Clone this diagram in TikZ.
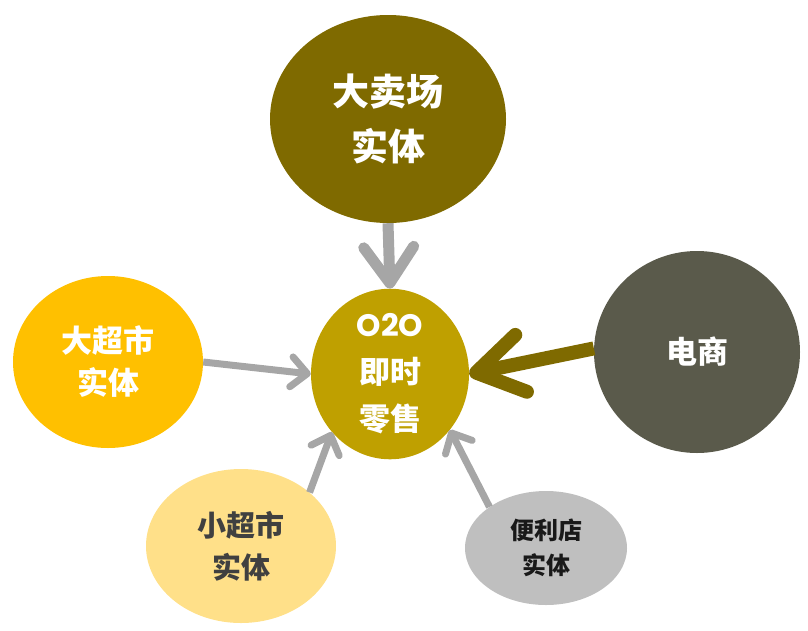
\documentclass[tikz,border=0pt]{standalone}
\usepackage{fontspec}
\usetikzlibrary{shapes.geometric,arrows.meta}
\newfontfamily\cjk{Noto Sans CJK SC}
\newfontfamily\pop{Poppins}
\definecolor{olivedark}{HTML}{7F6A00}
\definecolor{olivegold}{HTML}{BFA000}
\definecolor{amber}{HTML}{FFC000}
\definecolor{slate}{HTML}{5A5A4B}
\definecolor{paleyellow}{HTML}{FFE089}
\definecolor{lightgray}{HTML}{BFBFBF}
\definecolor{arrowgray}{HTML}{A6A6A6}
\begin{document}
\begin{tikzpicture}[x=1pt,y=-1pt,
  blob/.style={ellipse,inner sep=0pt,draw=none,align=center},
  thinarrow/.style={draw=arrowgray,line width=7pt,
    -{Straight Barb[length=16pt,width=30pt,round]}},
  toparrow/.style={draw=arrowgray,line width=11pt,
    -{Straight Barb[length=36pt,width=50pt,round]}},
  bigarrow/.style={draw=olivedark,line width=14pt,
    -{Straight Barb[length=46pt,width=58pt,round]}}]
\useasboundingbox (0,0) rectangle (808,630);
\node[blob,fill=olivedark,minimum width=236pt,minimum height=208pt,text=white,
  font=\cjk\bfseries\fontsize{37}{55}\selectfont] (big) at (388,119) {大卖场\\实体};
\node[blob,fill=olivegold,minimum width=158pt,minimum height=148pt,text=white,
  font=\cjk\bfseries\fontsize{31}{47}\selectfont] (o2o) at (390,374) {{\pop\bfseries O2O}\\即时\\零售};
\node[blob,fill=amber,minimum width=190pt,minimum height=172pt,text=white,
  font=\cjk\bfseries\fontsize{31}{42}\selectfont] (super) at (108,362) {大超市\\实体};
\node[blob,fill=slate,minimum width=206pt,minimum height=202pt,text=white,
  font=\cjk\bfseries\fontsize{31}{42}\selectfont] (ec) at (697,352) {电商};
\node[blob,fill=paleyellow,minimum width=190pt,minimum height=154pt,text=black!75,
  font=\cjk\bfseries\fontsize{29}{42}\selectfont] (small) at (241,546) {小超市\\实体};
\node[blob,fill=lightgray,minimum width=162pt,minimum height=114pt,text=black!90,
  font=\cjk\bfseries\fontsize{24}{35}\selectfont] (conv) at (546,548) {便利店\\实体};
\draw[toparrow] (big.south) -- (o2o.north);
\draw[bigarrow] (ec.178) -- (o2o.0);
\draw[thinarrow] (super.0) -- (o2o.180);
\draw[thinarrow] (small.38) -- (o2o.225);
\draw[thinarrow] (conv.144) -- (o2o.317);
\end{tikzpicture}
\end{document}
